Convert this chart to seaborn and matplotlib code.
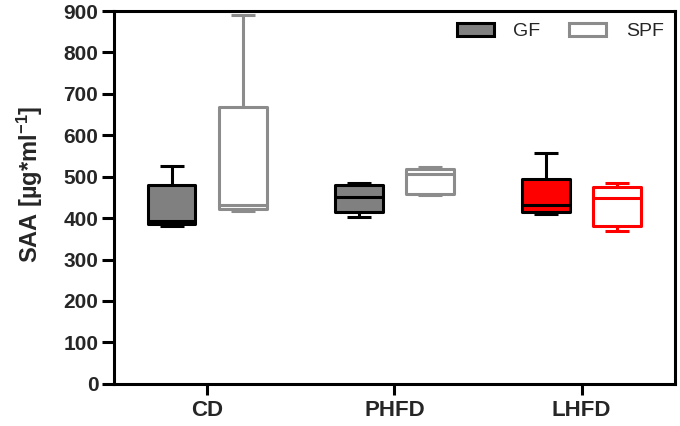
import pandas as pd
import matplotlib
matplotlib.use("Agg")
import matplotlib.pyplot as plt
import seaborn as sns
from matplotlib.patches import Patch

# five-number summaries: min, q1, median, q3, max
DIETS = ["CD", "PHFD", "LHFD"]
GROUPS = ["GF", "SPF"]
gf_cd = [381, 386, 394, 480, 526]
gf_phfd = [402, 416, 451, 479, 484]
gf_lhfd = [410, 414, 432, 494, 557]
spf_cd = [417, 421, 432, 669, 890]
spf_phfd = [455, 458, 507, 519, 523]
spf_lhfd = [368, 382, 448, 476, 485]

GRAY = "#808080"
GRAY_EDGE = "#8c8c8c"
RED = "#ff0000"

sns.set_theme(style="ticks")
plt.rcParams['font.family'] = ['Liberation Sans', 'DejaVu Sans']
plt.rcParams['mathtext.default'] = 'regular'

rows = []
for diet, vals in zip(DIETS, [gf_cd, gf_phfd, gf_lhfd]):
    rows += [(diet, "GF", v) for v in vals]
for diet, vals in zip(DIETS, [spf_cd, spf_phfd, spf_lhfd]):
    rows += [(diet, "SPF", v) for v in vals]
df = pd.DataFrame(rows, columns=["diet", "group", "saa"])

fig, ax = plt.subplots(figsize=(6.8, 4.26), dpi=100)
sns.boxplot(data=df, x="diet", y="saa", hue="group", order=DIETS, hue_order=GROUPS,
            palette=[GRAY, "white"], linecolor="black", whis=(0, 100),
            width=0.76, gap=0.33, linewidth=2.2, showfliers=False,
            legend=False, ax=ax)

# per-box colours: face / edge depend on diet and group
def box_style(x):
    ci = int(round(x))
    is_gf = x < ci
    if DIETS[ci] == "LHFD":
        return (RED, "black") if is_gf else ("white", RED)
    return (GRAY, "black") if is_gf else ("white", GRAY_EDGE)

for p in ax.patches:
    xs = p.get_transform().transform(p.get_path().vertices)[:, 0]
    xc = ax.transData.inverted().transform((xs.mean(), 0))[0]
    face, edge = box_style(xc)
    p.set_facecolor(face)
    p.set_edgecolor(edge)
    p.set_joinstyle("round")

for ln in ax.lines:
    xd = ln.get_xdata()
    if len(xd) == 0:
        continue
    face, edge = box_style(sum(xd) / len(xd))
    ln.set_color(edge)
    ln.set_solid_capstyle("butt")

ax.set_xlim(-0.5, 2.5)
ax.set_ylim(0, 900)
ax.set_yticks(range(0, 901, 100))
ax.set_xlabel("")
ax.set_ylabel("SAA [µg*ml$^{-1}$]", fontsize=17, fontweight="bold")
ax.yaxis.set_label_coords(-0.122, 0.535)
for lab in ax.get_yticklabels():
    lab.set_fontweight("bold")
for lab in ax.get_xticklabels():
    lab.set_fontweight("bold")
ax.tick_params(axis="y", labelsize=15, width=2.2, length=9, pad=2, color="black")
ax.tick_params(axis="x", labelsize=16, width=2.2, length=8, pad=4, color="black")
for sp in ax.spines.values():
    sp.set_visible(True)
    sp.set_linewidth(2.2)
    sp.set_color("black")

handles = [Patch(facecolor=GRAY, edgecolor="black", linewidth=2.2, label="GF"),
           Patch(facecolor="white", edgecolor=GRAY_EDGE, linewidth=2.2, label="SPF")]
ax.legend(handles=handles, loc="upper right", ncol=2, frameon=False, fontsize=14,
          handlelength=1.9, handleheight=0.67, columnspacing=1.5, handletextpad=1.0,
          borderaxespad=0.2, bbox_to_anchor=(1.0, 1.0))

fig.subplots_adjust(left=0.167, right=0.993, top=0.974, bottom=0.099)
fig.savefig("out.png", dpi=100)
